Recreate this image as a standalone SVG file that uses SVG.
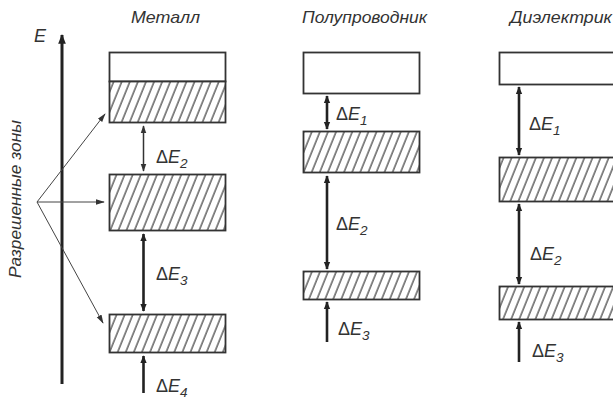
<svg xmlns="http://www.w3.org/2000/svg" width="613" height="400" viewBox="0 0 613 400">
<defs>
<style>
.t{font-family:"Liberation Sans",Arial,sans-serif;font-style:italic;fill:#333}
.title{font-size:16.5px}
.lab{font-size:18px}
.sub{font-size:13.5px}
.band{stroke:#333;stroke-width:1.8}
.free{fill:#fff}
.hat{fill:url(#hatch)}
.thick{stroke:#222;stroke-width:2.6;fill:none}
.thin{stroke:#333;stroke-width:1.5;fill:none}
.hair{stroke:#444;stroke-width:1;fill:none}
</style>
<pattern id="hatch" width="7.5" height="12" patternUnits="userSpaceOnUse" patternTransform="rotate(22)">
<rect width="7.5" height="12" fill="#fff"/>
<line x1="1" y1="0" x2="1" y2="12" stroke="#2a2a2a" stroke-width="1.1"/>
</pattern>
<marker id="ah" viewBox="0 0 10 10" refX="9" refY="5" markerWidth="3.2" markerHeight="3.2" orient="auto-start-reverse" markerUnits="strokeWidth">
<path d="M0,1 L10,5 L0,9 z" fill="#222"/>
</marker>
<marker id="ahs" viewBox="0 0 10 10" refX="9" refY="5" markerWidth="5.5" markerHeight="5.5" orient="auto-start-reverse" markerUnits="strokeWidth">
<path d="M0,1.5 L10,5 L0,8.5 z" fill="#333"/>
</marker>
<marker id="ahh" viewBox="0 0 10 10" refX="9" refY="5" markerWidth="9" markerHeight="9" orient="auto" markerUnits="strokeWidth">
<path d="M0,2 L10,5 L0,8 z" fill="#333"/>
</marker>
</defs>
<rect width="613" height="400" fill="#fff"/>

<g id="titles">
<text class="t title" x="131" y="23" textLength="69" lengthAdjust="spacingAndGlyphs">Металл</text>
<text class="t title" x="302" y="23" textLength="125" lengthAdjust="spacingAndGlyphs">Полупроводник</text>
<text class="t title" x="510" y="23" textLength="102" lengthAdjust="spacingAndGlyphs">Диэлектрик</text>
</g>

<g id="axis">
<text class="t" x="34" y="42" font-size="18">E</text>
<text class="t" font-size="17" x="-278" y="21" transform="rotate(-90)" textLength="158" lengthAdjust="spacingAndGlyphs">Разрешенные зоны</text>
</g>

<g id="metal-top">
<rect class="band free" x="109.5" y="52.5" width="116" height="29"/>
<rect class="band hat" x="109.5" y="81.5" width="116" height="41"/>
</g>
<g id="metal-mid">
<rect class="band hat" x="109.5" y="174.5" width="116" height="56"/>
</g>
<g id="metal-bot">
<rect class="band hat" x="109.5" y="314.5" width="116" height="38"/>
</g>

<g id="semi-top">
<rect class="band free" x="303.5" y="52.5" width="116" height="41"/>
</g>
<g id="semi-mid">
<rect class="band hat" x="303.5" y="131.5" width="116" height="41"/>
</g>
<g id="semi-bot">
<rect class="band hat" x="303.5" y="271.5" width="116" height="28"/>
</g>

<g id="diel-top">
<rect class="band free" x="499.5" y="52.5" width="130" height="32"/>
</g>
<g id="diel-mid">
<rect class="band hat" x="499.5" y="157.5" width="130" height="44"/>
</g>
<g id="diel-bot">
<rect class="band hat" x="499.5" y="286.5" width="130" height="33"/>
</g>

<g id="connectors">
<line x1="62" y1="384" x2="62" y2="35" stroke="#222" stroke-width="3" marker-end="url(#ah)"/>
<line class="hair" x1="37" y1="202" x2="105" y2="114" marker-end="url(#ahh)"/>
<line class="hair" x1="37" y1="202" x2="104" y2="202" marker-end="url(#ahh)"/>
<line class="hair" x1="37" y1="202" x2="103" y2="323" marker-end="url(#ahh)"/>

<line class="thin" x1="143.5" y1="126" x2="143.5" y2="171" marker-start="url(#ahs)" marker-end="url(#ahs)"/>
<line class="thick" x1="143.5" y1="234" x2="143.5" y2="311" marker-start="url(#ah)" marker-end="url(#ah)"/>
<line class="thick" x1="143.5" y1="393" x2="143.5" y2="356" marker-end="url(#ah)"/>

<line class="thick" x1="327" y1="96" x2="327" y2="129" marker-start="url(#ah)" marker-end="url(#ah)"/>
<line class="thick" x1="327" y1="176" x2="327" y2="269" marker-start="url(#ah)" marker-end="url(#ah)"/>
<line class="thick" x1="327" y1="342" x2="327" y2="302" marker-end="url(#ah)"/>

<line class="thick" x1="519" y1="87" x2="519" y2="155" marker-start="url(#ah)" marker-end="url(#ah)"/>
<line class="thick" x1="519" y1="204" x2="519" y2="284" marker-start="url(#ah)" marker-end="url(#ah)"/>
<line class="thick" x1="519" y1="362" x2="519" y2="322" marker-end="url(#ah)"/>
</g>

<g id="labels">
<text class="t lab" x="156" y="163"><tspan font-style="normal">Δ</tspan>E<tspan class="sub" dy="5">2</tspan></text>
<text class="t lab" x="156" y="280"><tspan font-style="normal">Δ</tspan>E<tspan class="sub" dy="5">3</tspan></text>
<text class="t lab" x="156" y="392"><tspan font-style="normal">Δ</tspan>E<tspan class="sub" dy="5">4</tspan></text>

<text class="t lab" x="336" y="120"><tspan font-style="normal">Δ</tspan>E<tspan class="sub" dy="5">1</tspan></text>
<text class="t lab" x="336" y="230"><tspan font-style="normal">Δ</tspan>E<tspan class="sub" dy="5">2</tspan></text>
<text class="t lab" x="338" y="335"><tspan font-style="normal">Δ</tspan>E<tspan class="sub" dy="5">3</tspan></text>

<text class="t lab" x="529" y="130"><tspan font-style="normal">Δ</tspan>E<tspan class="sub" dy="5">1</tspan></text>
<text class="t lab" x="530" y="260"><tspan font-style="normal">Δ</tspan>E<tspan class="sub" dy="5">2</tspan></text>
<text class="t lab" x="532" y="357"><tspan font-style="normal">Δ</tspan>E<tspan class="sub" dy="5">3</tspan></text>
</g>
</svg>
